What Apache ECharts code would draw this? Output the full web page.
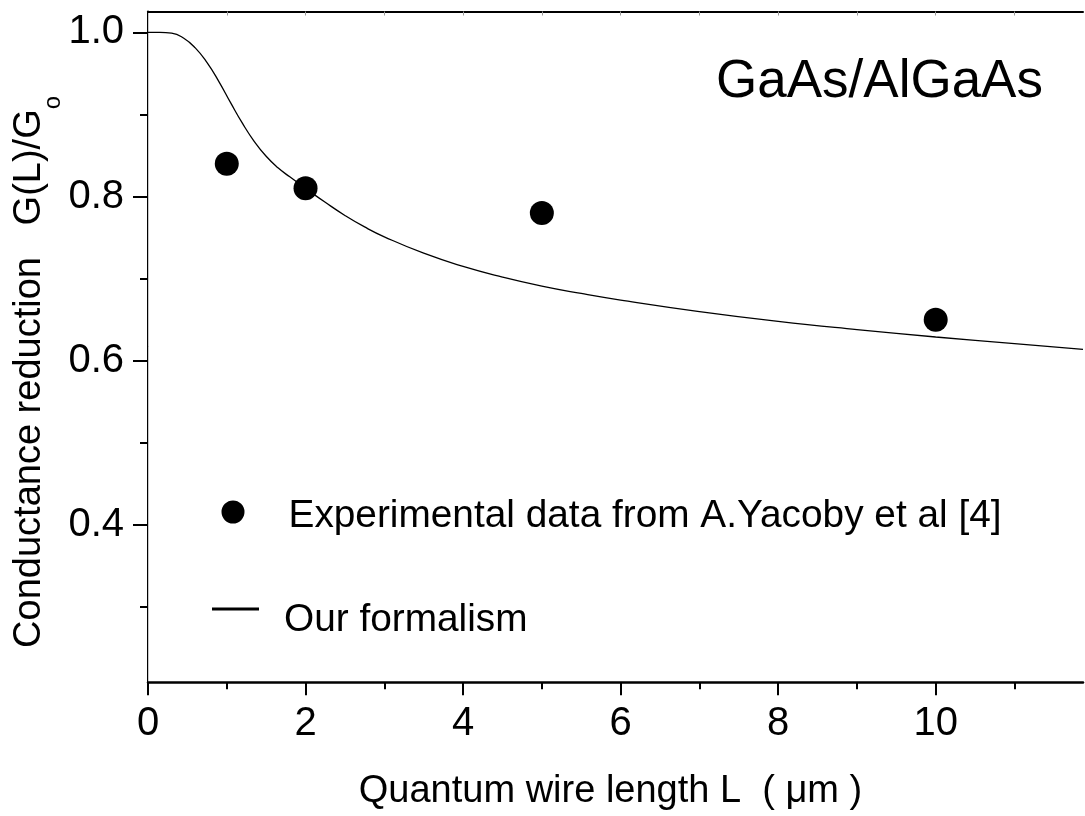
<!DOCTYPE html>
<html>
<head>
<meta charset="utf-8">
<script src="https://cdn.jsdelivr.net/npm/echarts@6.0.0/dist/echarts.min.js"></script>
<style>
html, body {margin: 0; padding: 0; background: #fff;}
#main {width: 1085px; height: 816px;}
</style>
</head>
<body>
<div id="main"></div>
<script>
// experimental points (A.Yacoby et al)
var expL = [1, 2, 5, 10];
var expG = [0.84, 0.81, 0.78, 0.65];

// our formalism
var curveL = [0, 0.15, 0.3, 0.45, 0.6, 0.75, 0.9, 1.05, 1.2, 1.35, 1.5, 1.65, 1.8, 2.0, 2.25, 2.5, 2.75, 3.0, 3.5, 4.0, 4.5, 5.0, 5.5, 6.0, 7.0, 8.0, 9.0, 10.0, 11.0, 11.87];
var curveG = [1.0, 1.0, 0.999, 0.993, 0.981, 0.963, 0.940, 0.914, 0.889, 0.867, 0.849, 0.835, 0.824, 0.810, 0.793, 0.777, 0.763, 0.751, 0.731, 0.715, 0.702, 0.691, 0.682, 0.674, 0.660, 0.648, 0.638, 0.629, 0.621, 0.614];

// axes
var xRange = [0, 11.87];
var yRange = [0.2086, 1.0253];
var xMajorTicks = [0, 2, 4, 6, 8, 10];
var xMinorTicks = [1, 3, 5, 7, 9, 11];
var xTopTicks = [1, 2, 3, 4, 5, 6, 7, 8, 9, 10, 11];
var yMajorTicks = [0.4, 0.6, 0.8, 1.0];
var yMinorTicks = [0.3, 0.5, 0.7, 0.9];

var FONT = "'Liberation Sans', Arial, sans-serif";
var chart = echarts.init(document.getElementById('main'));

function pairs(xs, ys) {
    var out = [];
    for (var i = 0; i < xs.length; i++) out.push([xs[i], ys[i]]);
    return out;
}

var gridBox = {left: 148, right: 2, top: 11.5, bottom: 133.7, outerBoundsMode: 'none', containLabel: false};

// legend icons: mark sits a bit above the text middle, like the original
var dotIcon = 'path://M11.5,0 A11.5,11.5 0 1 1 11.49,0 Z M0,30.9 h0.1 v0.1 h-0.1 Z';
var lineIcon = 'path://M0,0 h47 v3 h-47 Z M0,24.9 h0.1 v0.1 h-0.1 Z';

var option = {
    animation: false,
    backgroundColor: '#fff',
    grid: [
        Object.assign({}, gridBox),
        Object.assign({}, gridBox)
    ],
    legend: [{
        data: [{name: 'Experimental data from A.Yacoby et al [4]', icon: dotIcon}],
        left: 221.5, top: 494, padding: 0,
        itemWidth: 23, itemHeight: 31,
        selectedMode: false,
        itemStyle: {color: '#000'},
        textStyle: {fontFamily: FONT, fontSize: 38.8, color: '#000', lineHeight: 44, padding: [0, 0, 0, 39]}
    }, {
        data: [{name: 'Our formalism', icon: lineIcon}],
        left: 212, top: 598, padding: 0,
        itemWidth: 47, itemHeight: 25,
        selectedMode: false,
        itemStyle: {color: '#000', borderWidth: 0},
        lineStyle: {width: 0},
        textStyle: {fontFamily: FONT, fontSize: 38.8, color: '#000', lineHeight: 44, padding: [0, 0, 0, 20]}
    }],
    xAxis: [{
        // bottom axis, major ticks + labels
        type: 'value', gridIndex: 0, position: 'bottom',
        min: xRange[0], max: xRange[1],
        splitLine: {show: false},
        axisLine: {lineStyle: {color: '#000', width: 2.5}},
        axisTick: {length: 13, customValues: xMajorTicks, lineStyle: {color: '#000', width: 2}},
        axisLabel: {customValues: xMajorTicks, margin: 22, fontFamily: FONT, fontSize: 40, color: '#000'},
        name: 'Quantum wire length L  ( \u03bcm )',
        nameLocation: 'middle', nameGap: 90,
        nameMoveOverlap: false,
        nameTextStyle: {fontFamily: FONT, fontSize: 38, color: '#000', padding: [0, 10, 0, 0]}
    }, {
        // top frame
        type: 'value', gridIndex: 0, position: 'top',
        min: xRange[0], max: xRange[1],
        splitLine: {show: false},
        axisLine: {lineStyle: {color: '#000', width: 2}},
        axisTick: {inside: true, length: 4, customValues: xTopTicks, lineStyle: {color: '#999', width: 1}},
        axisLabel: {show: false}
    }, {
        // bottom minor ticks
        type: 'value', gridIndex: 1, position: 'bottom',
        min: xRange[0], max: xRange[1],
        splitLine: {show: false},
        axisLine: {show: false},
        axisTick: {length: 7, customValues: xMinorTicks, lineStyle: {color: '#000', width: 2}},
        axisLabel: {show: false}
    }],
    yAxis: [{
        type: 'value', gridIndex: 0, position: 'left',
        min: yRange[0], max: yRange[1],
        splitLine: {show: false},
        axisLine: {lineStyle: {color: '#000', width: 2}},
        axisTick: {length: 15, customValues: yMajorTicks, lineStyle: {color: '#000', width: 2}},
        axisLabel: {
            customValues: yMajorTicks, margin: 24,
            fontFamily: FONT, fontSize: 40, color: '#000',
            formatter: function (v) { return v.toFixed(1); }
        },
        name: '{m|Conductance reduction   G(L)/G}{s|o}',
        nameLocation: 'middle', nameGap: 99,
        nameMoveOverlap: false,
        nameTextStyle: {
            fontFamily: FONT, color: '#000',
            padding: [0, 50, 0, 0],
            rich: {
                m: {fontFamily: FONT, fontSize: 38, lineHeight: 38, verticalAlign: 'top', color: '#000'},
                s: {fontFamily: FONT, fontSize: 24, lineHeight: 24, verticalAlign: 'top', padding: [30, 0, 0, 0], color: '#000'}
            }
        }
    }, {
        // right frame
        type: 'value', gridIndex: 0, position: 'right',
        min: yRange[0], max: yRange[1],
        splitLine: {show: false},
        axisLine: {lineStyle: {color: '#c8c8c8', width: 1}},
        axisTick: {show: false},
        axisLabel: {show: false}
    }, {
        // left minor ticks
        type: 'value', gridIndex: 1, position: 'left',
        min: yRange[0], max: yRange[1],
        splitLine: {show: false},
        axisLine: {show: false},
        axisTick: {length: 8, customValues: yMinorTicks, lineStyle: {color: '#000', width: 2}},
        axisLabel: {show: false}
    }],
    graphic: [{
        type: 'text',
        left: 716, top: 56,
        style: {text: 'GaAs/AlGaAs', font: '53px ' + FONT, fill: '#000'}
    }],
    series: [{
        name: 'Our formalism',
        type: 'line',
        xAxisIndex: 0, yAxisIndex: 0,
        data: pairs(curveL, curveG),
        smooth: 0.5,
        showSymbol: false,
        symbol: 'none',
        lineStyle: {color: '#000', width: 1.3},
        itemStyle: {color: '#000'},
        z: 3
    }, {
        name: 'Experimental data from A.Yacoby et al [4]',
        type: 'scatter',
        xAxisIndex: 0, yAxisIndex: 0,
        data: pairs(expL, expG),
        symbol: 'circle',
        symbolSize: 24,
        itemStyle: {color: '#000', opacity: 1},
        z: 4
    }]
};

chart.setOption(option);
</script>
</body>
</html>
